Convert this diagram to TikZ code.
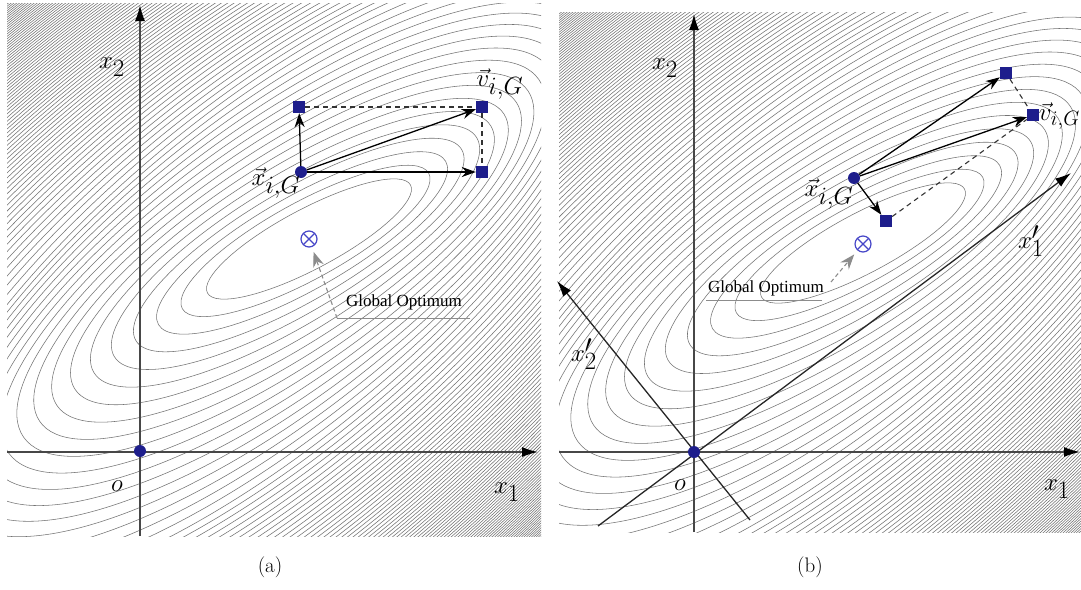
\documentclass[tikz,border=0pt]{standalone}
\usepackage{fontspec}
\newfontfamily\gofont{Liberation Serif}
\usetikzlibrary{arrows.meta}
\definecolor{navy}{RGB}{30,30,140}
\definecolor{optblue}{RGB}{70,70,200}
\newcommand{\contourset}[2]{%
  \gdef\crr{1}%
  \foreach \k in {1,...,190} {%
    \pgfmathsetmacro\cang{min(40,28+3*(\crr-1))}%
    \pgfmathsetmacro\cs{15*(\crr-1)}%
    \pgfmathsetmacro\cx{#1-\cs*cos(\cang)}%
    \pgfmathsetmacro\cy{#2-\cs*sin(\cang)}%
    \draw[contour] (\cx,\cy) circle [x radius={115*\crr^0.85}, y radius={30*\crr^1.05}, rotate=\cang];
    \pgfmathsetmacro\crnew{\crr + 0.27/(1+(\crr/6.0)^2.5)}%
    \xdef\crr{\crnew}%
  }%
}
\begin{document}
\begin{tikzpicture}[x=1pt,y=1pt,
  contour/.style={draw=black!55, line width=0.55pt},
  axis/.style={draw=black!72, line width=1.6pt, -{Latex[length=16pt,width=10pt,color=black]}},
  vecarrow/.style={draw=black, line width=1.3pt, -{Stealth[length=14pt,width=10pt]}},
  dashline/.style={draw=black!80, line width=1.1pt, dash pattern=on 5pt off 4pt},
  sq/.style={rectangle, fill=navy, minimum size=12pt, inner sep=0pt},
  dotn/.style={circle, fill=navy, minimum size=12pt, inner sep=0pt},
  opt/.style={circle, draw=optblue, line width=1.2pt, minimum size=16pt, inner sep=0pt,
    path picture={\draw[optblue, line width=1.2pt]
      (path picture bounding box.north west) -- (path picture bounding box.south east)
      (path picture bounding box.north east) -- (path picture bounding box.south west);}},
  lbl/.style={font=\fontsize{35}{35}\selectfont, inner sep=0pt},
  caplbl/.style={font=\fontsize{21}{21}\selectfont, inner sep=0pt},
  golbl/.style={font=\gofont\fontsize{17}{17}\selectfont, inner sep=0pt},
  goarrow/.style={draw=black!45, line width=1.1pt, dash pattern=on 4pt off 3pt, shorten >=5pt, -{Stealth[length=15pt,width=11pt]}},
  goline/.style={draw=black!45, line width=0.8pt}
]
\useasboundingbox (0,0) rectangle (1081,-589);
\fill[white] (0,0) rectangle (1081,-589);

% ---------- contours (a)
\begin{scope}
  \clip (7,-3) rectangle (541,-536);
  \contourset{309}{-239}
\end{scope}
% ---------- contours (b)
\begin{scope}
  \clip (559,-12) rectangle (1081,-532);
  \contourset{863}{-243}
\end{scope}

% ================= panel (a)
\coordinate (ax0) at (7,-452);
\coordinate (ax1) at (538,-452);
\coordinate (ay0) at (140,-536);
\coordinate (ay1) at (140,-5);
\draw[axis] (ax0) -- (ax1);
\draw[axis] (ay0) -- (ay1);
\node[dotn] (ao) at (140,-451) {};

\node[dotn] (axi) at (301,-172) {};
\node[sq] (ap) at (299,-107) {};
\node[sq] (av) at (482,-107) {};
\node[sq] (aq) at (482,-172) {};
\node[opt] (aopt) at (309,-239) {};

\draw[dashline] (ap) -- (av);
\draw[dashline] (av) -- (aq);
\draw[vecarrow] (axi) -- (ap);
\draw[vecarrow] (axi) -- (aq);
\draw[vecarrow] (axi) -- (av);

\coordinate (ag0) at (337,-318);
\coordinate (ag1) at (470,-318);
\draw[goline] (ag0) -- (ag1);
\draw[goarrow] (ag0) -- (aopt);
\node[golbl] (aglbl) at (404,-302) {Global Optimum};

\node[lbl] (ax2l) at (112,-67) {$x_2$};
\node[lbl] (ax1l) at (507,-492) {$x_1$};
\node[lbl] (aol) at (117,-486) {$o$};
\node[lbl] (avl) at (500,-84) {$\vec{v}_{i,G}$};
\node[lbl] (axl) at (276,-183) {$\vec{x}_{i,G}$};
\node[caplbl] (capa) at (270,-567) {(a)};

% ================= panel (b)
\coordinate (bx0) at (559,-452);
\coordinate (bx1) at (1080,-452);
\coordinate (by0) at (694,-532);
\coordinate (by1) at (694,-14);
\coordinate (bp0) at (598,-526);
\coordinate (bp1) at (1071,-173);
\coordinate (bq0) at (750,-520);
\coordinate (bq1) at (557,-281);
\draw[axis] (bx0) -- (bx1);
\draw[axis] (by0) -- (by1);
\draw[axis, draw=black!85, line width=1.3pt] (bp0) -- (bp1);
\draw[axis, draw=black!85, line width=1.3pt] (bq0) -- (bq1);
\node[dotn] (bo) at (694,-452) {};

\node[dotn] (bxi) at (854,-178) {};
\node[sq] (bp) at (1006,-73) {};
\node[sq] (bv) at (1033,-115) {};
\node[sq] (bq) at (886,-221) {};
\node[opt] (bopt) at (863,-244) {};

\draw[dashline] (bp) -- (bv);
\draw[dashline] (bq) -- (bv);
\draw[vecarrow] (bxi) -- (bp);
\draw[vecarrow] (bxi) -- (bv);
\draw[vecarrow] (bxi) -- (bq);

\coordinate (bg0) at (706,-300);
\coordinate (bg1) at (822,-300);
\coordinate (bg2) at (831,-282);
\draw[goline] (bg0) -- (bg1);
\draw[goarrow] (bg2) -- (bopt);
\node[golbl] (bglbl) at (766,-288) {Global Optimum};

\node[lbl] (bx2l) at (665,-68) {$x_2$};
\node[lbl] (bx1l) at (1057,-489) {$x_1$};
\node[lbl] (bol) at (680,-485) {$o$};
\node[lbl] (bx1pl) at (1031,-241) {$x'_1$};
\node[lbl] (bx2pl) at (584,-354) {$x'_2$};
\node[lbl, font=\fontsize{29}{29}\selectfont, anchor=east] (bvl) at (1080,-116) {$\vec{v}_{i,G}$};
\node[lbl] (bxl) at (829,-194) {$\vec{x}_{i,G}$};
\node[caplbl] (capb) at (810,-567) {(b)};
\end{tikzpicture}
\end{document}
